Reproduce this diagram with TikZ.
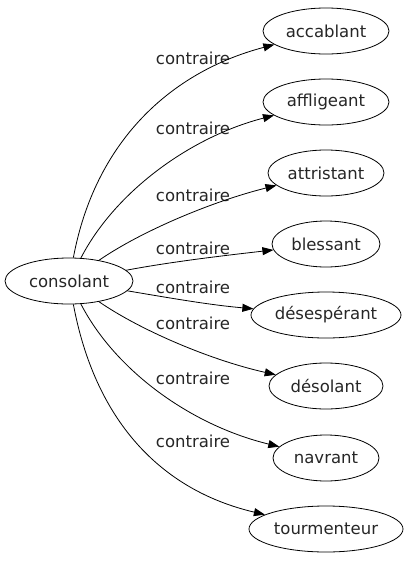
\documentclass[tikz,border=0pt]{standalone}
\usepackage{fontspec}
\setmainfont{DejaVu Sans}
\usetikzlibrary{shapes.geometric,arrows.meta}
\begin{document}
\begin{tikzpicture}[x=1pt,y=-1pt,
  word/.style={draw, ellipse, line width=0.8pt, minimum height=46pt, inner sep=0pt,
    font=\fontsize{16.5}{18}\selectfont, text=black!85},
  lbl/.style={font=\fontsize{16.5}{18}\selectfont, inner sep=0pt, text=black!85},
  rel/.style={line width=0.8pt, -{Triangle[length=11pt,width=8pt]}}]
\useasboundingbox (0,0) rectangle (408,563);
\node[word, minimum width=128pt] (c) at (69,281) {consolant};
\node[word, minimum width=126pt] (n1) at (326,31) {accablant};
\node[word, minimum width=126pt] (n2) at (326,102) {affligeant};
\node[word, minimum width=116pt] (n3) at (326,173) {attristant};
\node[word, minimum width=108pt] (n4) at (326,244) {blessant};
\node[word, minimum width=150pt] (n5) at (326,315) {désespérant};
\node[word, minimum width=114pt] (n6) at (326,386) {désolant};
\node[word, minimum width=106pt] (n7) at (326,458) {navrant};
\node[word, minimum width=154pt] (n8) at (326,529) {tourmenteur};
\node[lbl] (l1) at (193,58) {contraire};
\node[lbl] (l2) at (193,128) {contraire};
\node[lbl] (l3) at (193,195) {contraire};
\node[lbl] (l4) at (193,248) {contraire};
\node[lbl] (l5) at (193,287) {contraire};
\node[lbl] (l6) at (193,323) {contraire};
\node[lbl] (l7) at (193,378) {contraire};
\node[lbl] (l8) at (193,441) {contraire};
\draw[rel] (c) .. controls (95,142) and (170,72) .. (n1);
\draw[rel] (c) .. controls (115,192) and (190,137) .. (n2);
\draw[rel] (c) .. controls (140,232) and (210,202) .. (n3);
\draw[rel] (c) .. controls (170,262) and (220,256) .. (n4);
\draw[rel] (c) .. controls (170,298) and (210,305) .. (n5);
\draw[rel] (c) .. controls (140,330) and (210,360) .. (n6);
\draw[rel] (c) .. controls (115,370) and (190,425) .. (n7);
\draw[rel] (c) .. controls (95,420) and (160,490) .. (n8);
\end{tikzpicture}
\end{document}
